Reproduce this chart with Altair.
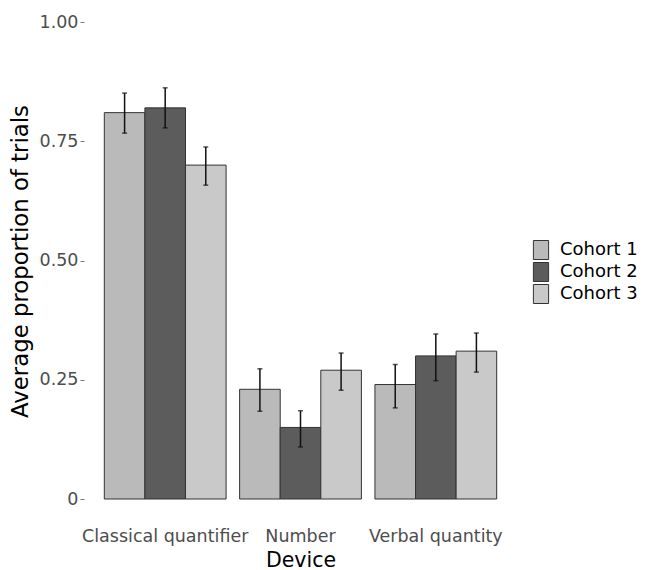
import altair as alt
import pandas as pd

devices = ["Classical quantifier", "Number", "Verbal quantity"]
cohorts = ["Cohort 1", "Cohort 2", "Cohort 3"]
# values per device, listed by cohort
means = [0.81, 0.82, 0.70, 0.23, 0.15, 0.27, 0.24, 0.30, 0.31]
lower = [0.767, 0.778, 0.658, 0.184, 0.109, 0.228, 0.191, 0.248, 0.266]
upper = [0.851, 0.862, 0.738, 0.273, 0.185, 0.306, 0.282, 0.346, 0.348]
colors = ["#bababa", "#5c5c5c", "#c9c9c9"]

rows = []
i = 0
for d in devices:
    for c in cohorts:
        rows.append({"Device": d, "Cohort": c, "mean": means[i], "lo": lower[i], "hi": upper[i]})
        i += 1
df = pd.DataFrame(rows)

font = "DejaVu Sans"

x = alt.X("Device:N", sort=devices,
          scale=alt.Scale(paddingInner=0.1, paddingOuter=0.15),
          axis=alt.Axis(title="Device", labelAngle=0, ticks=False, domain=False,
                        labelFontSize=17.5, labelColor="#4d4d4d", labelPadding=28,
                        titleFontSize=20.5, titleColor="#000000", titleFontWeight="normal",
                        titlePadding=6, labelFont=font, titleFont=font))
xo = alt.XOffset("Cohort:N", sort=cohorts, scale=alt.Scale(paddingInner=0, paddingOuter=0))

base = alt.Chart(df)

bars = base.mark_bar(stroke="#333333", strokeWidth=1).encode(
    x=x, xOffset=xo,
    y=alt.Y("mean:Q", scale=alt.Scale(domain=[0, 1], nice=False, zero=True),
            axis=alt.Axis(title="Average proportion of trials", values=[0, 0.25, 0.5, 0.75, 1.0],
                          labelExpr="datum.value == 0 ? '0' : format(datum.value, '.2f')",
                          grid=False, domain=False, tickSize=4, tickColor="#777777",
                          labelFontSize=17.5, labelColor="#4d4d4d", labelPadding=2,
                          titleFontSize=22.8, titleColor="#000000", titleFontWeight="normal",
                          titlePadding=7, titleY=239, labelFont=font, titleFont=font)),
    color=alt.Color("Cohort:N", sort=cohorts,
                    scale=alt.Scale(domain=cohorts, range=colors),
                    legend=alt.Legend(title=None, symbolType="M-0.8,-1H0.8V1H-0.8Z",
                                      symbolSize=361, symbolStrokeColor="#333333",
                                      symbolStrokeWidth=1, labelFontSize=18, labelFont=font,
                                      labelColor="#000000", rowPadding=-9, padding=0,
                                      orient="none", legendX=447, legendY=218,
                                      labelOffset=9)),
)

rules = base.mark_rule(color="#111111", strokeWidth=1.5).encode(
    x=x, xOffset=xo, y="lo:Q", y2="hi:Q")
cap_lo = base.mark_tick(color="#111111", size=5, thickness=1.5).encode(
    x=x, xOffset=xo, y="lo:Q")
cap_hi = base.mark_tick(color="#111111", size=5, thickness=1.5).encode(
    x=x, xOffset=xo, y="hi:Q")

chart = alt.layer(bars, rules, cap_lo, cap_hi).properties(
    width=433, height=477,
    background="white",
    autosize=alt.AutoSizeParams(type="none"),
    padding={"left": 76, "top": 14, "right": 120, "bottom": 74},
).configure_view(strokeWidth=0)

chart.save("out.html", embed_options={"renderer": "svg", "actions": False})
